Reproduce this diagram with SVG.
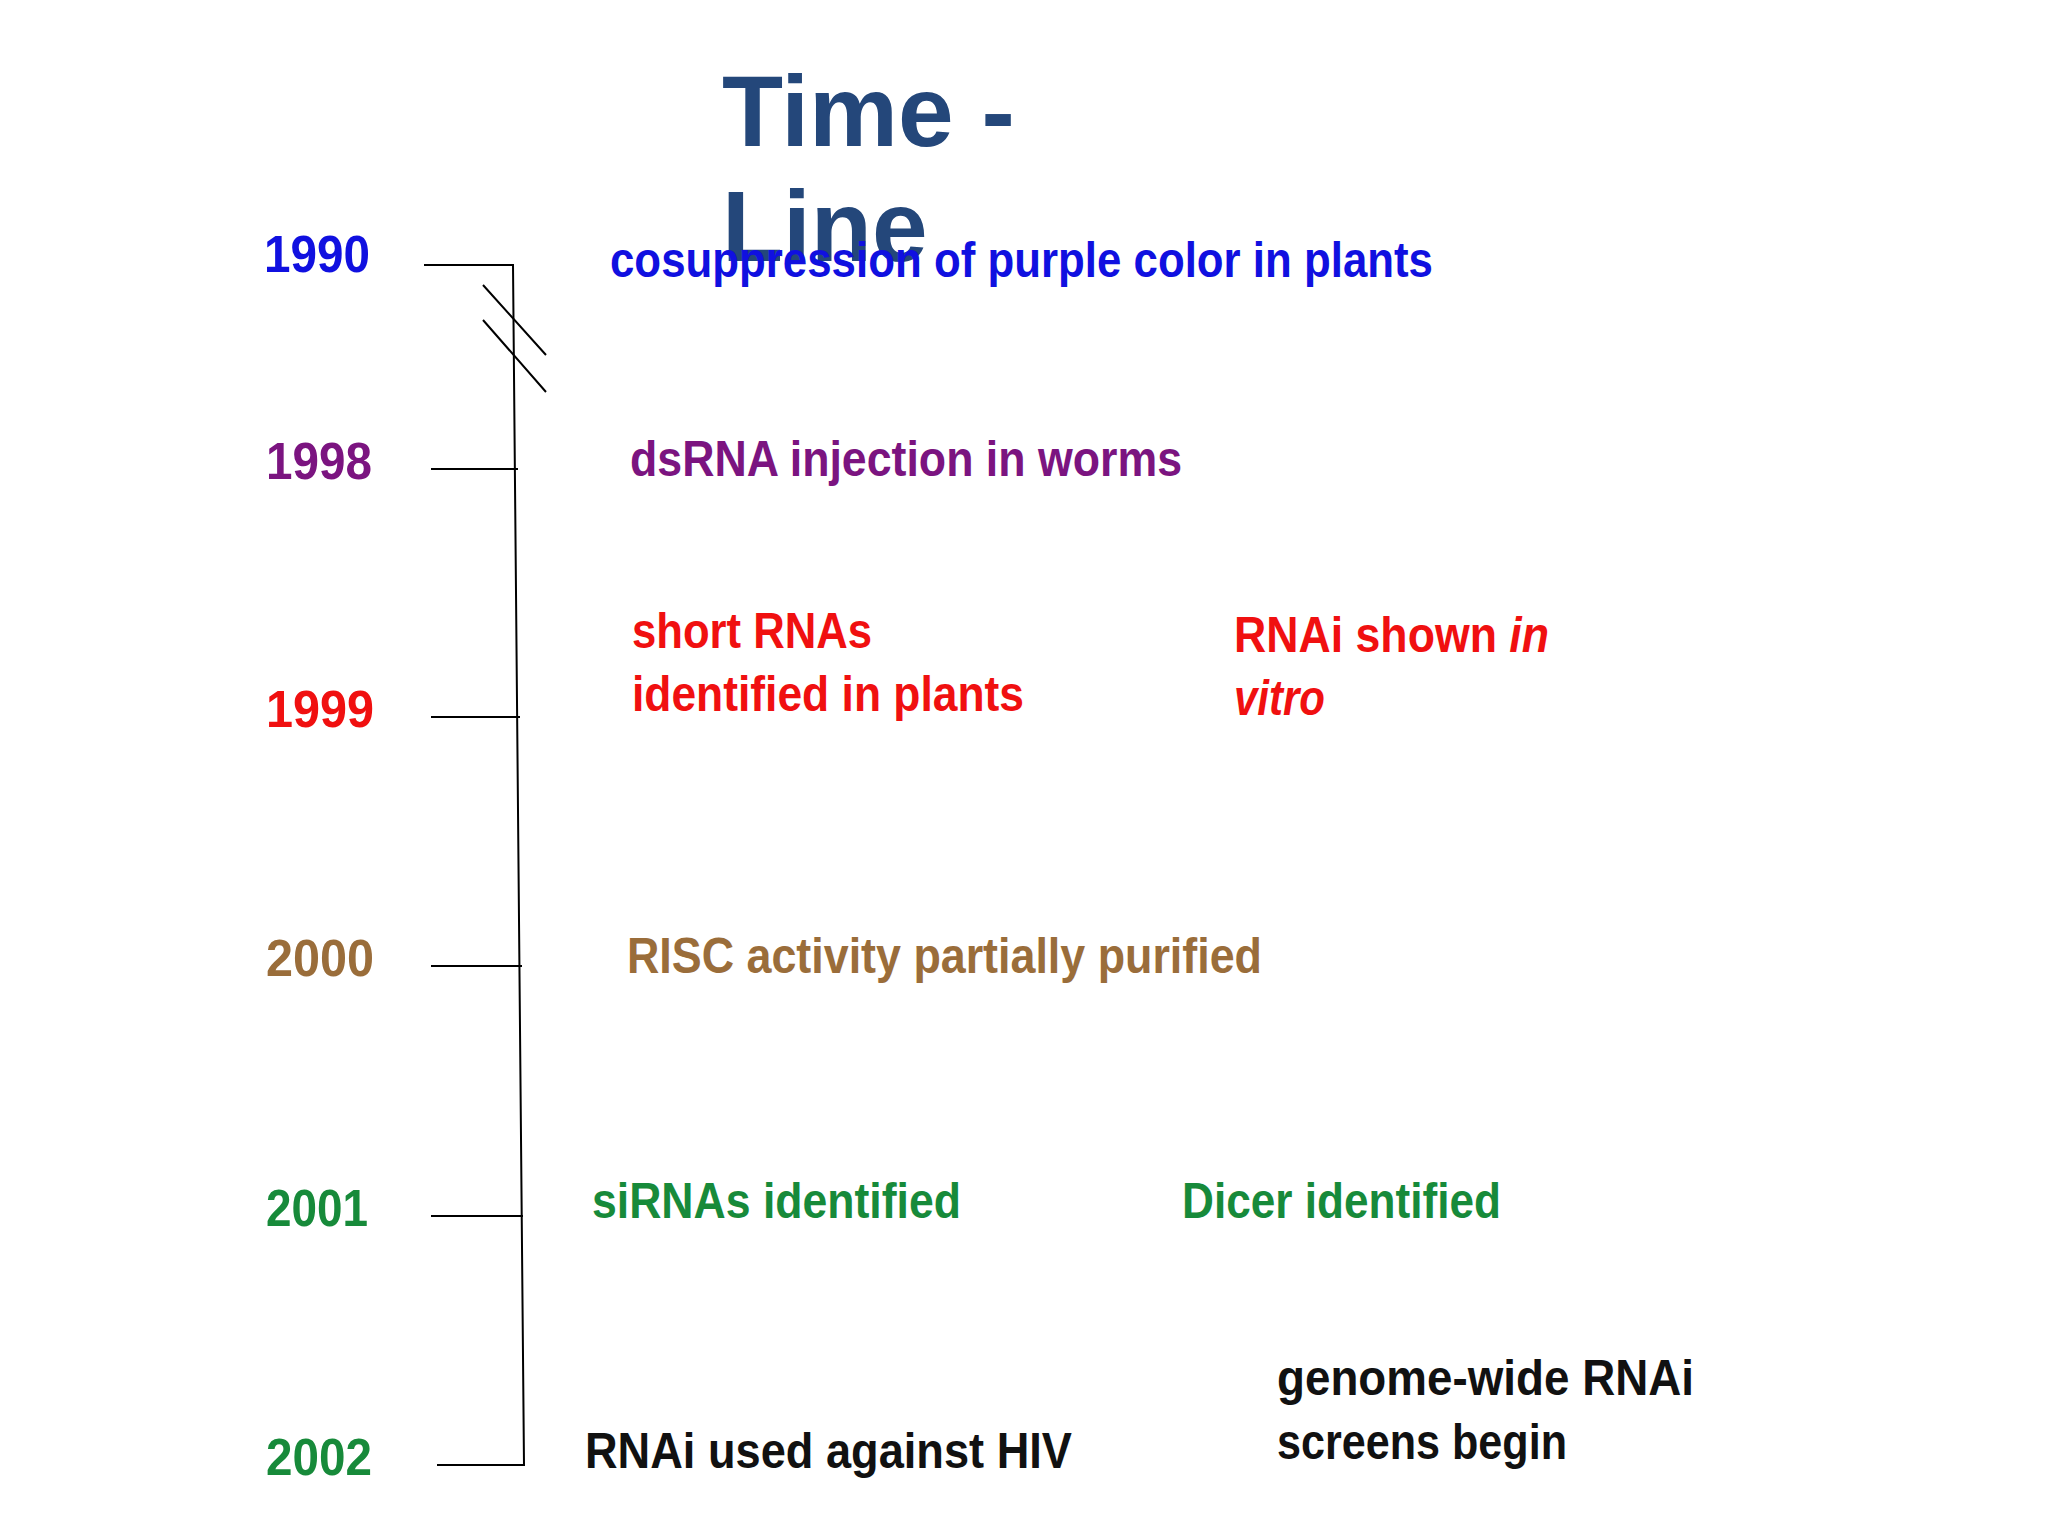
<svg xmlns="http://www.w3.org/2000/svg" width="2048" height="1536" viewBox="0 0 2048 1536">
<style>
.t{font-family:"Liberation Sans Narrow","Liberation Sans",Arial,sans-serif;font-weight:bold;font-size:50px}
.y{font-family:"Liberation Sans Narrow","Liberation Sans",Arial,sans-serif;font-weight:bold;font-size:52px}
.ln{stroke:#000;stroke-width:2;fill:none}
</style>
<rect width="2048" height="1536" fill="#fff"/>
<g id="title" font-family="Liberation Sans,Arial,sans-serif" font-weight="bold" font-size="100" fill="#24477a">
<text x="722" y="146">Time -</text><text x="722" y="261">Line</text>
</g>
<g id="connectors" class="ln">
<path d="M424 265H513L524 1465H437"/>
<path d="M431 469H518M431 717H520M431 966H522M431 1216H523"/>
<path d="M483 285L546 355M483 320L546 392"/>
</g>
<g id="years" class="y">
<text x="264" y="272" fill="#1010e0" textLength="106" lengthAdjust="spacingAndGlyphs">1990</text>
<text x="266" y="479" fill="#7b1480" textLength="106" lengthAdjust="spacingAndGlyphs">1998</text>
<text x="266" y="727" fill="#f01010" textLength="108" lengthAdjust="spacingAndGlyphs">1999</text>
<text x="266" y="976" fill="#9a6d3a" textLength="108" lengthAdjust="spacingAndGlyphs">2000</text>
<text x="266" y="1226" fill="#178a3a" textLength="102" lengthAdjust="spacingAndGlyphs">2001</text>
<text x="266" y="1475" fill="#178a3a" textLength="106" lengthAdjust="spacingAndGlyphs">2002</text>
</g>
<g id="e1990" class="t" fill="#1010e0"><text x="610" y="277" textLength="823" lengthAdjust="spacingAndGlyphs">cosuppression of purple color in plants</text></g>
<g id="e1998" class="t" fill="#7b1480"><text x="630" y="476" textLength="552" lengthAdjust="spacingAndGlyphs">dsRNA injection in worms</text></g>
<g id="e1999a" class="t" fill="#f01010"><text x="632" y="648" textLength="240" lengthAdjust="spacingAndGlyphs">short RNAs</text><text x="632" y="711" textLength="392" lengthAdjust="spacingAndGlyphs">identified in plants</text></g>
<g id="e1999b" class="t" fill="#f01010"><text x="1234" y="652" textLength="315" lengthAdjust="spacingAndGlyphs">RNAi shown <tspan font-style="italic">in</tspan></text><text x="1234" y="715" font-style="italic" textLength="91" lengthAdjust="spacingAndGlyphs">vitro</text></g>
<g id="e2000" class="t" fill="#9a6d3a"><text x="627" y="973" textLength="635" lengthAdjust="spacingAndGlyphs">RISC activity partially purified</text></g>
<g id="e2001a" class="t" fill="#178a3a"><text x="592" y="1218" textLength="369" lengthAdjust="spacingAndGlyphs">siRNAs identified</text></g>
<g id="e2001b" class="t" fill="#178a3a"><text x="1182" y="1218" textLength="319" lengthAdjust="spacingAndGlyphs">Dicer identified</text></g>
<g id="e2002a" class="t" fill="#111"><text x="585" y="1468" textLength="487" lengthAdjust="spacingAndGlyphs">RNAi used against HIV</text></g>
<g id="e2002b" class="t" fill="#111"><text x="1277" y="1395" textLength="417" lengthAdjust="spacingAndGlyphs">genome-wide RNAi</text><text x="1277" y="1459" textLength="290" lengthAdjust="spacingAndGlyphs">screens begin</text></g>
</svg>
